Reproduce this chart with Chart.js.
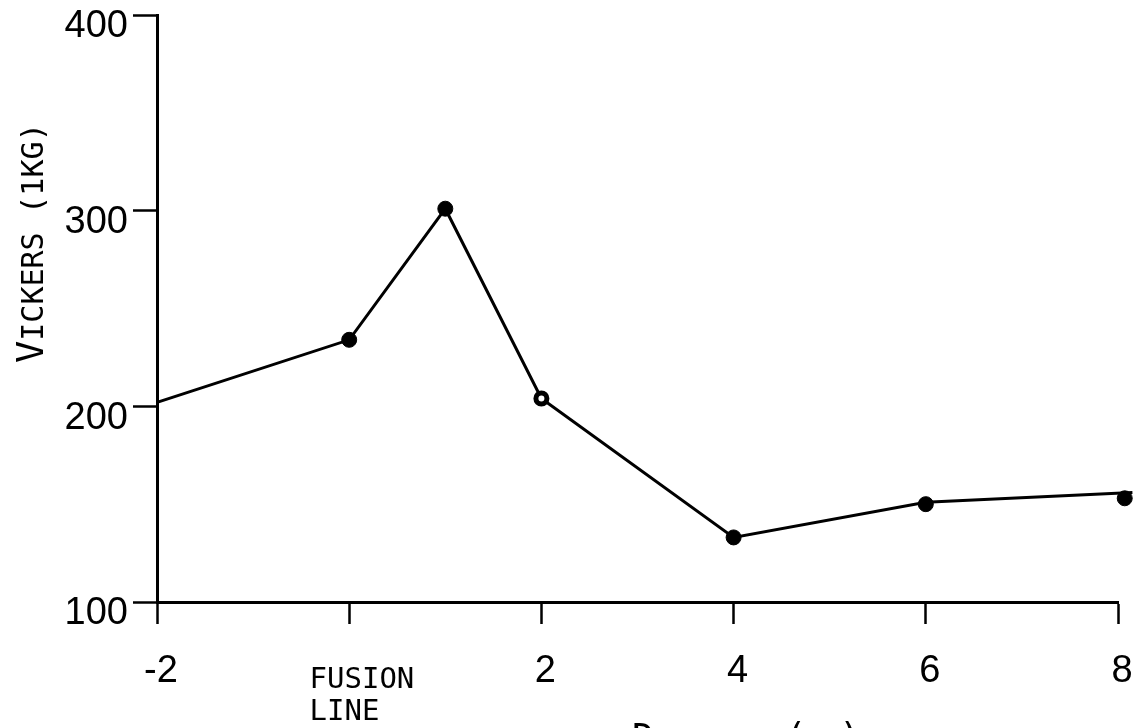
<!DOCTYPE html>
<html>
<head>
<meta charset="utf-8">
<script src="https://cdn.jsdelivr.net/npm/chart.js@4.4.1/dist/chart.umd.min.js"></script>
<style>
  html, body { margin: 0; padding: 0; background: #fff; overflow: hidden; }
  #wrap { width: 1139px; height: 760px; }
  canvas { display: block; }
</style>
</head>
<body>
<div id="wrap"><canvas id="c" width="1139" height="760"></canvas></div>
<script>
// Hardness traverse across the weld: distance from the fusion line (mm) vs Vickers hardness (1 kg)
const xTickValues = [-2, 0, 2, 4, 6, 8];
const yTickValues = [100, 200, 300, 400];
const fusionLabel = ['FUSION', 'LINE'];

// hand-faired curve through the readings
const curveDistance = [-2, 0, 1, 2, 4, 6, 8.15];
const curveHardness = [202, 234, 301, 204, 133, 151, 156];

// individual indentation readings
const readingDistance = [0, 1, 2, 4, 6, 8.07];
const readingHardness = [234, 301, 204, 133, 150, 153];
const openReading = [false, false, true, false, false, false];

const xTitle = 'DISTANCE (MM)';
const yTitle = 'VICKERS (1KG)';

const digitFont = "'Liberation Sans', 'DejaVu Sans', sans-serif";
const letterFont = "'DejaVu Sans Mono', 'Liberation Mono', monospace";

Chart.defaults.color = '#000';

const pair = (xs, ys) => xs.map((x, i) => ({ x: x, y: ys[i] }));

// draws a title in small capitals: initial letter and brackets larger, the rest reduced
function drawSmallCaps(ctx, text, initial, small, bracket) {
  let cx = 0;
  [...text].forEach((ch, i) => {
    const size = i === 0 ? initial : (ch === '(' || ch === ')') ? bracket : small;
    ctx.font = size + 'px ' + letterFont;
    ctx.fillText(ch, cx, 0);
    cx += ctx.measureText(ch).width;
  });
}

const axisTitles = {
  id: 'axisTitles',
  afterDraw(chart) {
    const ctx = chart.ctx;
    ctx.save();
    ctx.fillStyle = '#000';
    ctx.textAlign = 'left';
    ctx.textBaseline = 'alphabetic';
    // horizontal axis title, below the tick labels
    ctx.save();
    ctx.translate(632, 750);
    drawSmallCaps(ctx, xTitle, 37, 27, 37);
    ctx.restore();
    // vertical axis title, reading upward
    ctx.save();
    ctx.translate(43, 363);
    ctx.rotate(-Math.PI / 2);
    drawSmallCaps(ctx, yTitle, 37, 30, 31);
    ctx.restore();
    ctx.restore();
  }
};

new Chart(document.getElementById('c'), {
  type: 'scatter',
  data: {
    datasets: [
      {
        type: 'line',
        data: pair(curveDistance, curveHardness),
        borderColor: '#000',
        borderWidth: 3,
        pointRadius: 0,
        tension: 0,
        fill: false,
        clip: false,
        order: 2
      },
      {
        type: 'scatter',
        data: pair(readingDistance, readingHardness),
        pointRadius: openReading.map(o => o ? 5.5 : 7.5),
        pointBorderWidth: openReading.map(o => o ? 5 : 1),
        pointBackgroundColor: openReading.map(o => o ? '#fff' : '#000'),
        pointBorderColor: '#000',
        clip: false,
        order: 1
      }
    ]
  },
  options: {
    responsive: false,
    animation: false,
    events: [],
    layout: { padding: { top: 15, right: 21, bottom: 0, left: 0 } },
    plugins: { legend: { display: false }, tooltip: { enabled: false }, title: { display: false } },
    scales: {
      x: {
        type: 'linear',
        min: -2,
        max: 8,
        afterBuildTicks: s => { s.ticks = xTickValues.map(v => ({ value: v })); },
        afterFit: s => { s.height = 760 - 602; s.paddingLeft = 0; s.paddingRight = 0; },
        border: { display: true, color: '#000', width: 3 },
        grid: { display: true, drawOnChartArea: false, drawTicks: true, tickLength: 22, tickColor: '#000', tickWidth: 2.5 },
        ticks: {
          autoSkip: false,
          maxRotation: 0,
          padding: 40.5,
          labelOffset: 4,
          color: '#000',
          callback: v => v === 0 ? [' ' + fusionLabel[0], ' ' + fusionLabel[1].padEnd(fusionLabel[0].length, ' ')] : String(v),
          font: ctx => (ctx.tick && ctx.tick.value === 0)
            ? { family: letterFont, size: 29, lineHeight: 32 / 29 }
            : { family: digitFont, size: 38, lineHeight: 14 / 38 }
        }
      },
      y: {
        type: 'linear',
        min: 100,
        max: 400,
        afterBuildTicks: s => { s.ticks = yTickValues.map(v => ({ value: v })); },
        afterFit: s => { s.width = 157; s.paddingTop = 0; s.paddingBottom = 0; },
        border: { display: true, color: '#000', width: 3 },
        grid: { display: true, drawOnChartArea: false, drawTicks: true, tickLength: 24, tickColor: '#000', tickWidth: 2.5 },
        ticks: {
          padding: 5,
          labelOffset: 12,
          color: '#000',
          font: { family: digitFont, size: 38, lineHeight: 0.5 }
        }
      }
    }
  },
  plugins: [axisTitles]
});
</script>
</body>
</html>
